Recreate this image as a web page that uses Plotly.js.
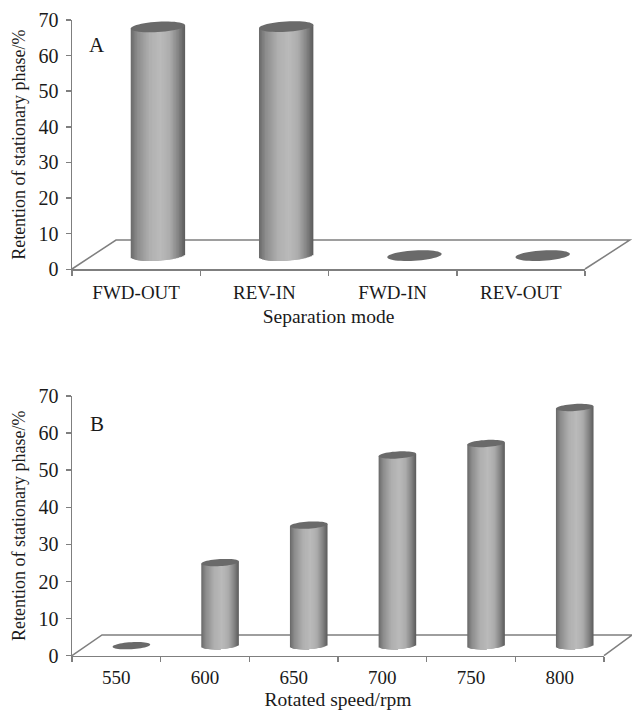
<!DOCTYPE html>
<html><head><meta charset="utf-8">
<script src="https://cdn.plot.ly/plotly-3.0.1.min.js"></script>
<style>html,body{margin:0;padding:0;background:#fff}</style></head>
<body><div id="chart" style="width:632px;height:710px"></div>
<script>
const modeLabels = ["FWD-OUT", "REV-IN", "FWD-IN", "REV-OUT"];
const modeRetention = [64.2, 64.3, 0, 0];
const speedLabels = ["550", "600", "650", "700", "750", "800"];
const speedRetention = [0, 22.4, 32.5, 51.4, 54.5, 64.2];
const yTicks = [0, 10, 20, 30, 40, 50, 60, 70];
const yTitle = "Retention of stationary phase/%";

const W = 632, H = 710;
const FONT = "Liberation Serif, Times New Roman, serif";
const TXT = "#1a1a1a", AXC = "#7f7f7f", CAP = "#6a6a6a";
const STOPS = [[0,105],[0.12,140],[0.35,176],[0.55,186],[0.72,172],[0.88,130],[1,90]];
function shade(t){
  for(let i=1;i<STOPS.length;i++){
    if(t<=STOPS[i][0]){
      const a=STOPS[i-1],b=STOPS[i],v=Math.round(a[1]+(b[1]-a[1])*(t-a[0])/(b[0]-a[0]));
      return `rgb(${v},${v},${v})`;
    }
  }
  return "rgb(90,90,90)";
}
const px=x=>x/W, py=y=>1-y/H;
const SHIFT=0.17, HALF=0.212, N=36;

function panel(labels, vals, o){
  const traces=[], shapes=[];
  // outer stripes first; each reaches the centre line so that no gaps are left
  const order=[];
  for(let k=0;k<N/2;k++){ order.push(k); order.push(N-1-k); }
  order.forEach(k=>{
    const u=-1+(2*k+1)/N, arc=Math.sqrt(1-u*u);
    const edge=-1+(u<0?2*k:2*(k+1))/N;
    const w=Math.abs(edge)*HALF+0.004;
    traces.push({
      type:"bar", xaxis:o.xa, yaxis:o.ya, x:labels, showlegend:false, hoverinfo:"skip",
      y:vals.map(v=>v>0?v+o.b*arc:0),
      base:vals.map(v=>o.mid-o.b*arc+o.tilt*u),
      width:w, offset:u<0?SHIFT+edge*HALF:SHIFT+edge*HALF-w,
      marker:{color:shade((u+1)/2),line:{width:0}}
    });
  });
  vals.forEach((v,i)=>{
    let d="";
    for(let j=0;j<48;j++){
      const a=j/48*2*Math.PI, c=Math.cos(a), s=Math.sin(a);
      d+=(j?"L":"M")+(i+SHIFT+HALF*c).toFixed(4)+","+(o.mid+v+o.tilt*c+o.b*s).toFixed(3);
    }
    shapes.push({type:"path",xref:o.xa,yref:o.ya,path:d+"Z",fillcolor:CAP,line:{width:0},layer:"above"});
  });
  const p=o.floor;
  shapes.push({type:"path",xref:"paper",yref:"paper",layer:"below",
    path:`M${px(p.x0)},${py(p.y0)}L${px(p.x1)},${py(p.y1)}L${px(p.x2)},${py(p.y1)}L${px(p.x3)},${py(p.y0)}`,
    line:{color:AXC,width:1.5},fillcolor:"rgba(0,0,0,0)"});
  return {traces,shapes};
}

const A=panel(modeLabels,modeRetention,{xa:"x",ya:"y",mid:3.85,b:1.45,tilt:0.45,
  floor:{x0:72,y0:269,x1:116,y1:240,x2:630,x3:585}});
const B=panel(speedLabels,speedRetention,{xa:"x2",ya:"y2",mid:2.7,b:0.95,tilt:0.3,
  floor:{x0:72,y0:655.7,x1:102,y1:635,x2:632,x3:604}});

function xAxis(labels,right,title,anchor,stand,labelStand){
  return {type:"category",categoryorder:"array",categoryarray:labels,domain:[px(72),px(right)],
    range:[-0.5,labels.length-0.5],tickson:"boundaries",ticks:"outside",ticklen:5,tickwidth:1.5,
    tickcolor:AXC,showline:true,linecolor:AXC,linewidth:1.5,showgrid:false,zeroline:false,anchor:anchor,
    ticklabelstandoff:labelStand,tickfont:{family:FONT,size:19,color:TXT},
    title:{text:title,font:{family:FONT,size:19.5,color:TXT},standoff:stand},automargin:false};
}
function yAxis(top,bottom,anchor){
  return {domain:[py(bottom),py(top)],range:[0,70],tickvals:yTicks,ticktext:yTicks.map(String),ticks:"outside",ticklen:5,
    tickwidth:1.5,tickcolor:AXC,showline:true,linecolor:AXC,linewidth:1.5,showgrid:false,zeroline:false,anchor:anchor,
    ticklabelstandoff:3,tickfont:{family:FONT,size:20,color:TXT},
    title:{text:yTitle,font:{family:FONT,size:18,color:TXT},standoff:8},automargin:false};
}
const letter=(t,y)=>({text:t,xref:"paper",yref:"paper",x:px(97),y:py(y),showarrow:false,xanchor:"center",yanchor:"middle",
  font:{family:FONT,size:21,color:TXT}});

const layout={width:W,height:H,margin:{l:0,r:0,t:0,b:0},paper_bgcolor:"#fff",plot_bgcolor:"rgba(0,0,0,0)",
  barmode:"overlay",showlegend:false,
  xaxis:xAxis(modeLabels,585,"Separation mode","y",8,5),
  yaxis:yAxis(20,269.3,"x"),
  xaxis2:xAxis(speedLabels,604,"Rotated speed/rpm","y2",9,4),
  yaxis2:yAxis(396,655.7,"x2"),
  shapes:A.shapes.concat(B.shapes),
  annotations:[letter("A",45),letter("B",424)]};
Plotly.newPlot("chart",A.traces.concat(B.traces),layout,{displayModeBar:false,staticPlot:true});
</script></body></html>
